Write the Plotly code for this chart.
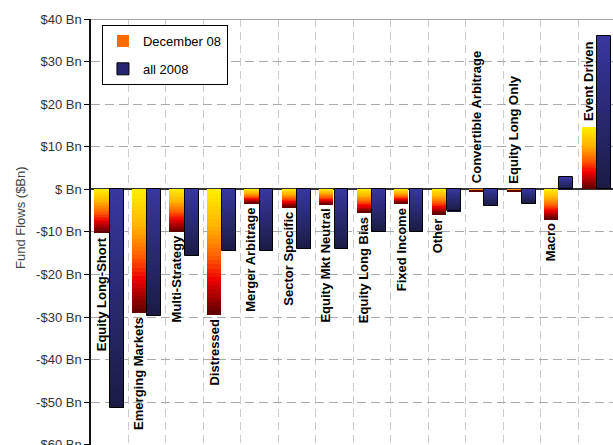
import plotly.graph_objects as go
from plotly.colors import sample_colorscale

categories = ["Equity Long-Short", "Emerging Markets", "Multi-Strategy", "Distressed",
              "Merger Arbitrage", "Sector Specific", "Equity Mkt Neutral", "Equity Long Bias",
              "Fixed Income", "Other", "Convertible Arbitrage", "Equity Long Only",
              "Macro", "Event Driven"]
dec08 = [-10.3, -29.0, -10.0, -29.4, -3.4, -4.2, -3.6, -5.5, -3.4, -5.9, -0.4, -0.4, -7.1, 14.7]
all2008 = [-51.4, -29.8, -15.7, -14.4, -14.5, -14.1, -14.1, -10.0, -10.0, -5.2, -3.9, -3.4, 2.8, 35.9]
y_tickvals = [40, 30, 20, 10, 0, -10, -20, -30, -40, -50, -60]
y_ticktext = ["$40 Bn", "$30 Bn", "$20 Bn", "$10 Bn", "$ Bn", "-$10 Bn", "-$20 Bn",
              "-$30 Bn", "-$40 Bn", "-$50 Bn", "-$60 Bn"]
series_names = ["December 08", "all 2008"]

orange_scale = [[0, "#FFEF00"], [0.3, "#FFB400"], [0.55, "#FF5A00"], [0.72, "#F00000"], [1, "#5A0000"]]
navy_scale = [[0, "#37379F"], [1, "#1B1B44"]]

N = 30
W1, OFF1 = 0.38, -0.41
W2, OFF2 = 0.37, 0.0

fig = go.Figure()


def add_gradient(values, scale, offset, width):
    for k in range(N):
        cols = []
        for v in values:
            frac = (k + 0.5) / N if v < 0 else 1 - (k + 0.5) / N
            cols.append(sample_colorscale(scale, [frac])[0])
        fig.add_trace(go.Bar(
            x=categories, y=[v / N for v in values], base=[v * k / N for v in values],
            offset=offset, width=width, marker=dict(color=cols, line=dict(width=0)),
            showlegend=False, hoverinfo="skip"))


add_gradient(dec08, orange_scale, OFF1, W1)
add_gradient(all2008, navy_scale, OFF2, W2)

# outline for all 2008 bars
fig.add_trace(go.Bar(x=categories, y=all2008, base=[0] * len(all2008), offset=OFF2, width=W2,
                     marker=dict(color="rgba(0,0,0,0)", line=dict(color="#000000", width=1)),
                     showlegend=False, hoverinfo="skip"))

# legend entries
fig.add_trace(go.Bar(x=[categories[0]], y=[None], name=series_names[0], legendgroup="a",
                     marker=dict(color="#FF6A00", line=dict(width=0))))
fig.add_trace(go.Bar(x=[categories[0]], y=[None], name=series_names[1], legendgroup="b",
                     marker=dict(color="#262670", line=dict(color="#000", width=1))))

annotations = []
for i, (c, v) in enumerate(zip(categories, dec08)):
    above = v > -1
    annotations.append(dict(
        x=i - 0.23, y=max(v, 0) if above else v, xref="x", yref="y",
        text="<b>" + c + "</b>", textangle=-90, showarrow=False,
        xanchor="center", yanchor="bottom" if above else "top",
        yshift=4 if above else -2,
        font=dict(family="Liberation Sans, Arial, sans-serif", size=13, color="#000000")))
annotations.append(dict(
    x=0, xref="paper", xshift=-71, y=0.5, yref="paper", yshift=14,
    yanchor="middle", xanchor="center",
    text="Fund Flows ($Bn)", textangle=-90, showarrow=False,
    font=dict(family="Liberation Sans, Arial, sans-serif", size=13, color="#444444")))

fig.update_layout(
    width=613, height=445,
    margin=dict(l=91, r=0, t=19, b=0, autoexpand=False),
    template="none",
    barmode="overlay",
    bargap=0,
    paper_bgcolor="white", plot_bgcolor="white",
    font=dict(family="Liberation Sans, Arial, sans-serif", size=13, color="#333333"),
    xaxis=dict(type="category", range=[-0.5, 13.43], tickson="boundaries",
               showticklabels=False, ticks="", showgrid=True, gridcolor="#CCCCCC",
               griddash="8px,5px", gridwidth=1, showline=False, zeroline=False,
               automargin=False, fixedrange=True),
    yaxis=dict(range=[-60.05, 40], tickvals=y_tickvals, ticktext=y_ticktext,
               ticks="outside", ticklen=5, tickcolor="#000000", tickwidth=1,
               showline=True, linecolor="#111111", linewidth=1.5,
               showgrid=True, gridcolor="#AAAAAA", griddash="9px,5px", gridwidth=1,
               zeroline=True, zerolinecolor="#333333", zerolinewidth=1.5,
               ticklabeloverflow="allow",
               tickfont=dict(size=13, color="#333333"), automargin=False, fixedrange=True),
    showlegend=True,
    legend=dict(x=0.021, y=0.986, xanchor="left", yanchor="top",
                bgcolor="white", bordercolor="#000000", borderwidth=1,
                traceorder="grouped", tracegroupgap=8,
                font=dict(size=13, color="#000000"), itemwidth=30),
    annotations=annotations,
    shapes=[dict(type="line", xref="paper", yref="y", x0=0, x1=1, y0=40, y1=40,
                 line=dict(color="#888888", width=1.5))],
)

fig.write_html("out.html")
